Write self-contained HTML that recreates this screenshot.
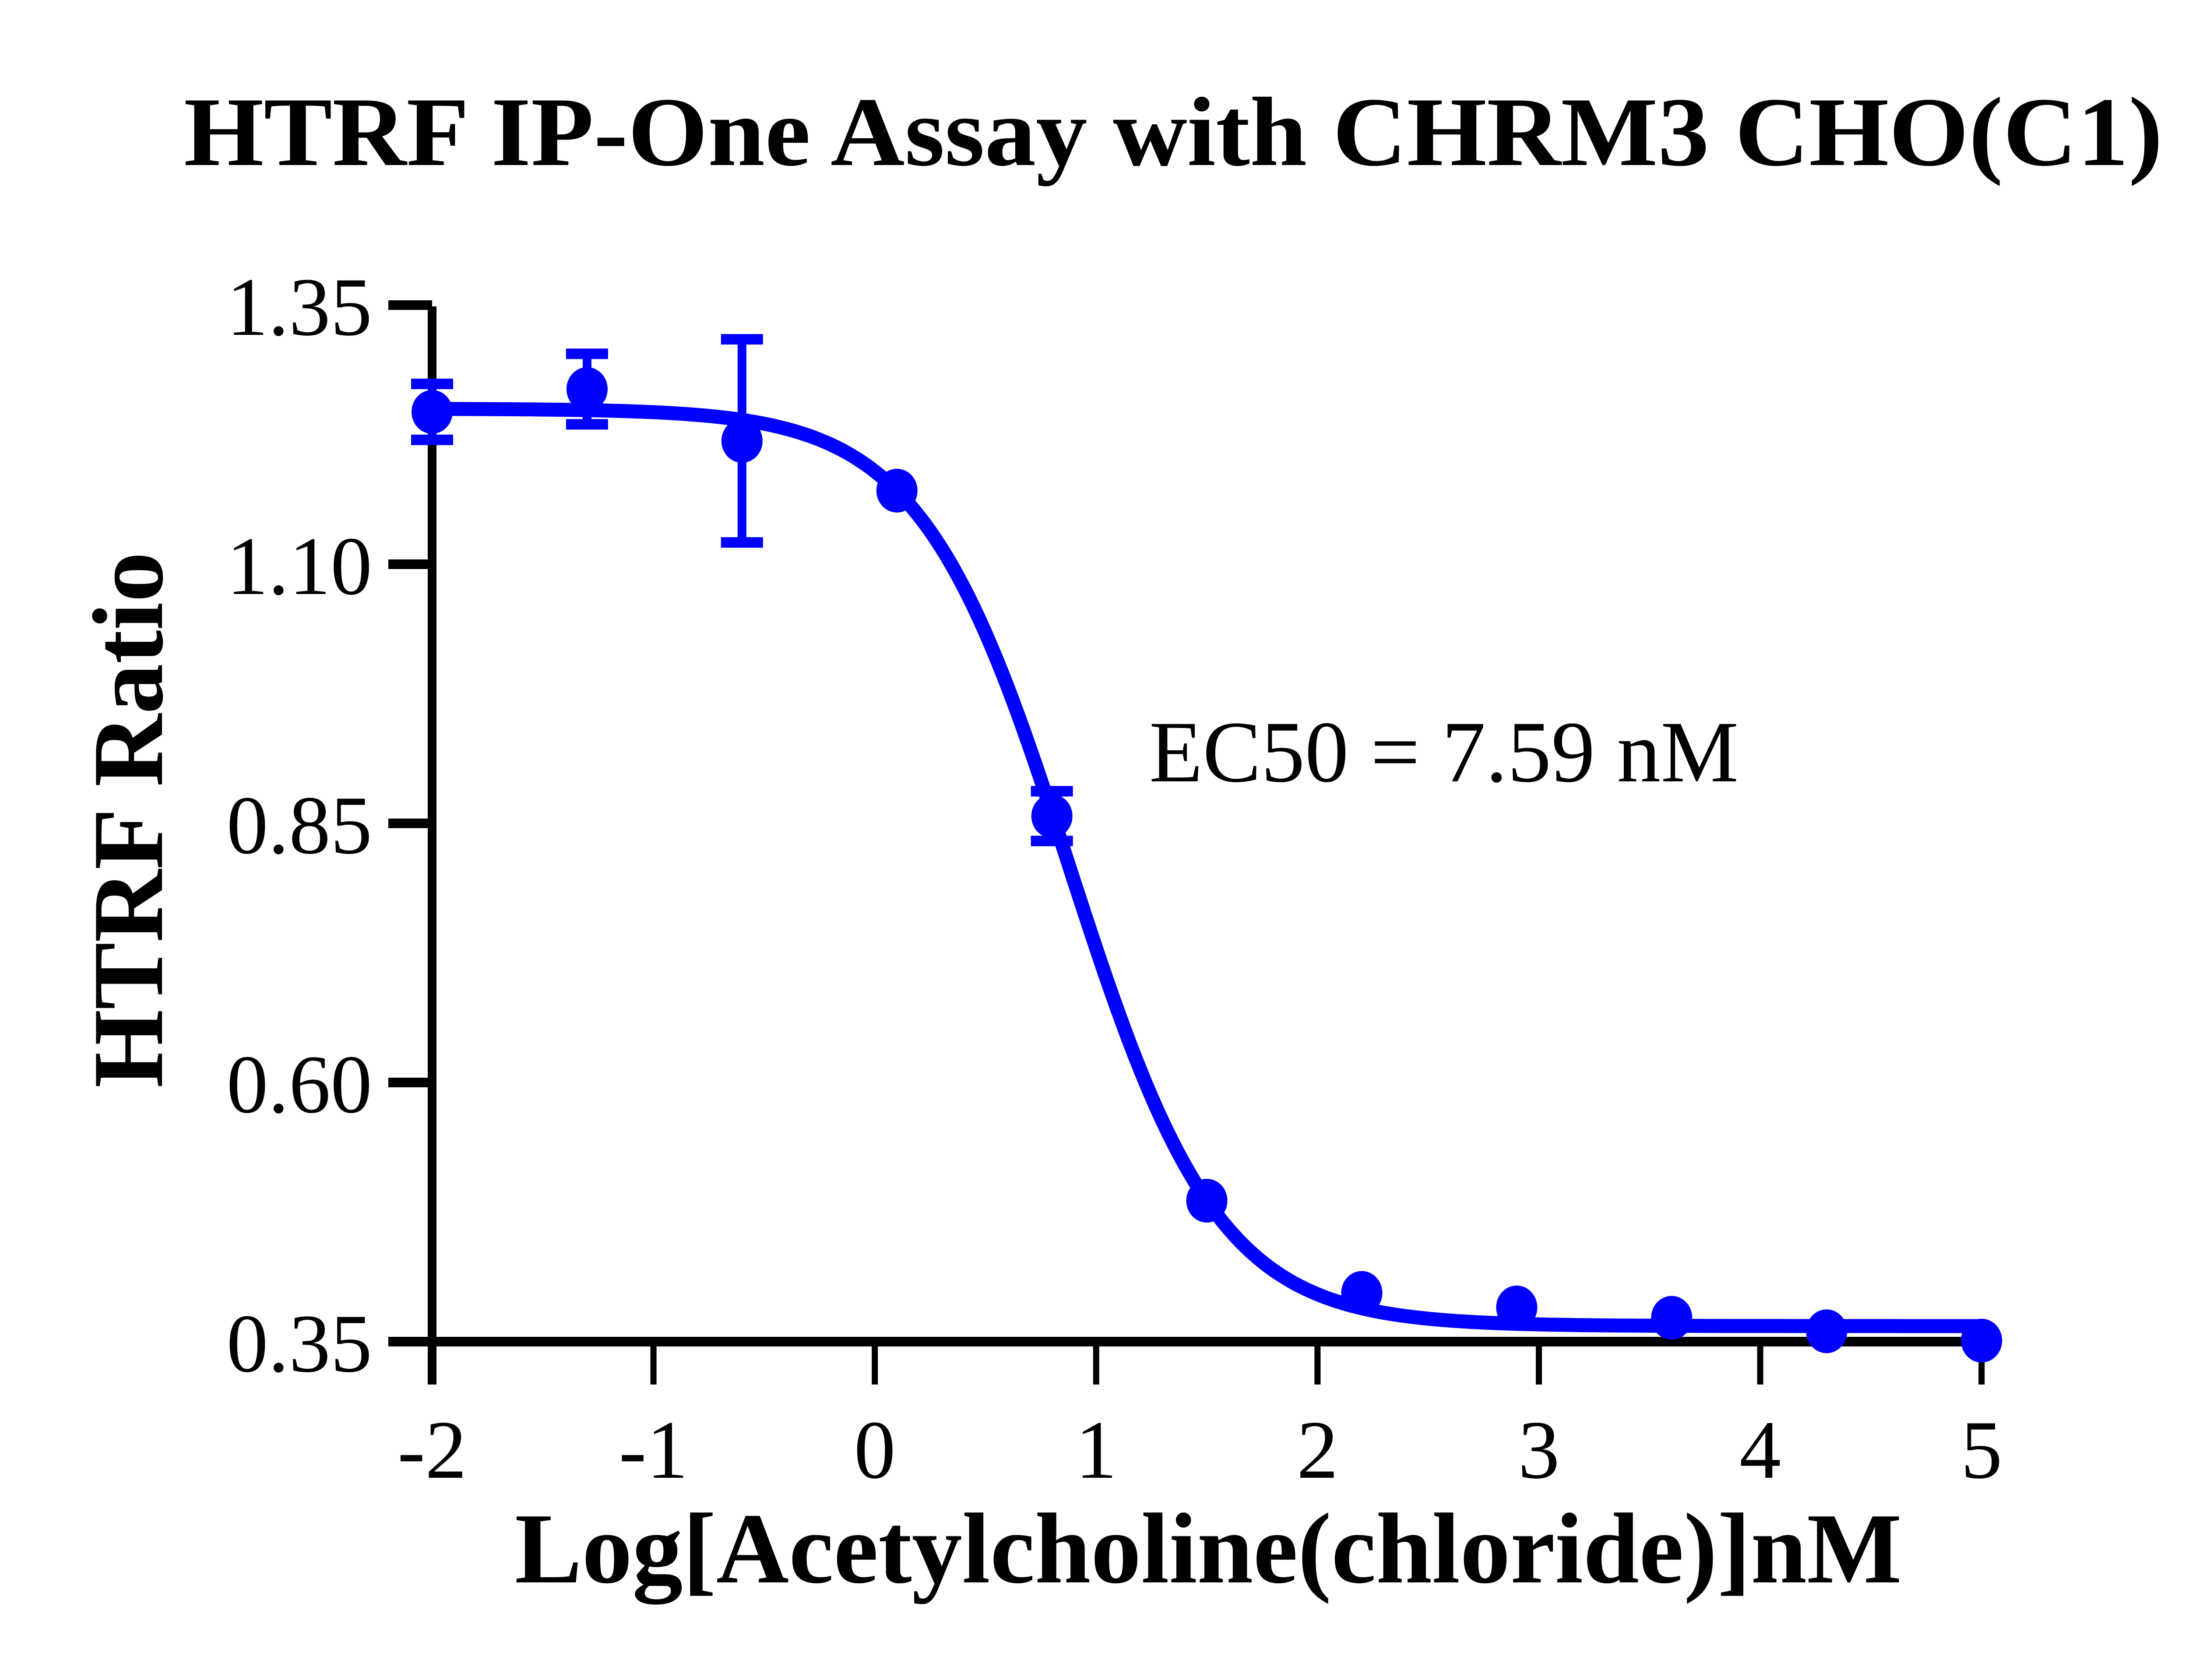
<!DOCTYPE html>
<html><head><meta charset="utf-8"><style>
html,body{margin:0;padding:0;background:#fff;width:5270px;height:3838px;overflow:hidden;}
svg{display:block;}
</style></head><body>
<svg id="s" width="5270" height="3838" viewBox="0 0 5270 3838" xmlns="http://www.w3.org/2000/svg" overflow="hidden">
<rect width="5270" height="3838" fill="#fff"/>
<text x="420" y="377" font-family="Liberation Serif, serif" font-weight="bold" font-size="225" textLength="4520" lengthAdjust="spacingAndGlyphs">HTRF IP-One Assay with CHRM3 CHO(C1)</text>
<text transform="translate(370,1873) rotate(-90)" font-family="Liberation Serif, serif" font-weight="bold" font-size="230" text-anchor="middle">HTRF Ratio</text>
<text x="2760" y="3615" font-family="Liberation Serif, serif" font-weight="bold" font-size="230" text-anchor="middle">Log[Acetylcholine(chloride)]nM</text>
<text x="2625" y="1785" font-family="Liberation Serif, serif" font-size="200">EC50 = 7.59 nM</text>
<g id="axes" stroke="#000" fill="none"></g>
<g id="labels" font-family="Liberation Serif, serif" font-size="190"></g>
<g id="data" fill="#0000ff" stroke="#0000ff"></g>
</svg>
<script>
var NS="http://www.w3.org/2000/svg";
function X(v){return 987+505.6*(v+2);}
function Y(v){return 3065-(v-0.35)*2368;}
function el(p,t,a,txt){var e=document.createElementNS(NS,t);for(var k in a)e.setAttribute(k,a[k]);if(txt!==undefined)e.textContent=txt;document.getElementById(p).appendChild(e);return e;}
el("axes","line",{x1:987,y1:700,x2:987,y2:3163,"stroke-width":20});
el("axes","line",{x1:887,y1:3065,x2:4540,y2:3065,"stroke-width":22});
[1.35,1.10,0.85,0.60,0.35].forEach(function(v){var y=Y(v);el("axes","line",{x1:887,y1:y,x2:987,y2:y,"stroke-width":22});
el("labels","text",{x:850,y:y+68,"text-anchor":"end"},v.toFixed(2));});
for(var i=-2;i<=5;i++){var x=X(i);el("axes","line",{x1:x,y1:3065,x2:x,y2:3163,"stroke-width":14});
el("labels","text",{x:x,y:3376,"text-anchor":"middle"},String(i));}
var d="";for(var k=0;k<=280;k++){var x=-2+k*0.025;var y=0.365+0.885/(1+Math.pow(10,1.29*(x-0.88)));d+=(k?"L":"M")+X(x).toFixed(1)+" "+Y(y).toFixed(1);}
el("data","path",{d:d,fill:"none","stroke-width":32});
var pts=[[-2,1.247,0.027],[-1.3,1.269,0.034],[-0.6,1.219,0.098],[0.1,1.171,0],[0.8,0.857,0.024],[1.5,0.486,0],[2.2,0.397,0],[2.9,0.383,0],[3.6,0.373,0],[4.3,0.36,0],[5,0.351,0]];
pts.forEach(function(p){var x=X(p[0]),y=Y(p[1]);
if(p[2]){var t=Y(p[1]+p[2]),b=Y(p[1]-p[2]);el("data","line",{x1:x,y1:t,x2:x,y2:b,"stroke-width":20});
el("data","line",{x1:x-48,y1:t,x2:x+48,y2:t,"stroke-width":24});el("data","line",{x1:x-48,y1:b,x2:x+48,y2:b,"stroke-width":24});}
el("data","ellipse",{cx:x,cy:y,rx:47,ry:50,stroke:"none"});});
</script>
</body></html>
